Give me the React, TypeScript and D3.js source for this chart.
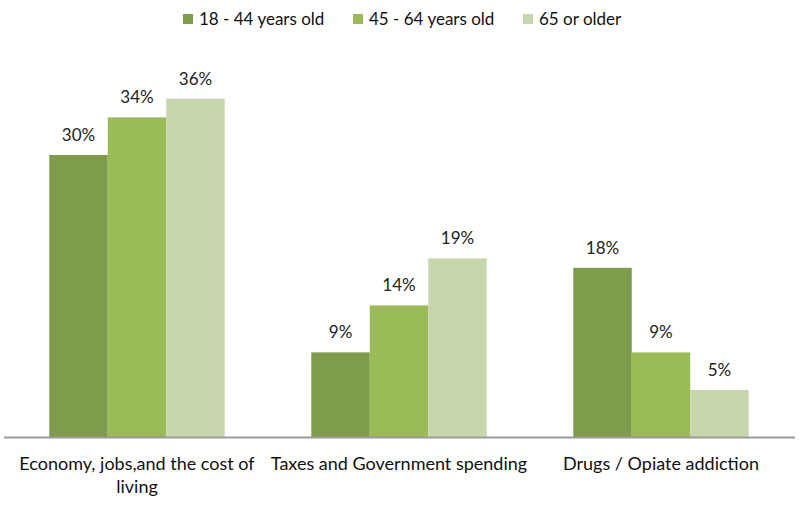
import React, { useRef, useEffect } from "react";
import { select, scaleBand, scaleLinear } from "d3";

const categories = ["Economy, jobs,and the cost of living", "Taxes and Government spending", "Drugs / Opiate addiction"];
const seriesNames = ["18 - 44 years old", "45 - 64 years old", "65 or older"];
const young = [30, 9, 18];
const middle = [34, 14, 9];
const older = [36, 19, 5];
const colors = ["#7e9c4b", "#9bbb59", "#c8d6ae"];

const W = 800;
const H = 508;
const FONT = "Lato, 'Open Sans', sans-serif";

function BarChart() {
  const svgRef = useRef<SVGSVGElement>(null);

  useEffect(() => {
    const svg = select(svgRef.current);
    svg.selectAll("*").remove();

    const series = [young, middle, older];
    const baseY = 437;

    const x = scaleBand().domain(categories).range([6, 792]).paddingInner(0).paddingOuter(0);
    const inner = scaleBand()
      .domain(seriesNames)
      .range([0, x.bandwidth()])
      .paddingInner(0)
      .paddingOuter(0.74);
    const y = scaleLinear().domain([0, 40]).range([baseY, baseY - 376]);

    // bars + value labels
    series.forEach((vals, si) => {
      const g = svg.append("g");
      g.selectAll("rect")
        .data(vals)
        .join("rect")
        .attr("x", (d, i) => x(categories[i])! + inner(seriesNames[si])!)
        .attr("y", d => y(d))
        .attr("width", inner.bandwidth())
        .attr("height", d => baseY - y(d))
        .attr("fill", colors[si]);
      g.selectAll("text")
        .data(vals)
        .join("text")
        .attr("x", (d, i) => x(categories[i])! + inner(seriesNames[si])! + inner.bandwidth() / 2)
        .attr("y", d => y(d) - 14)
        .attr("text-anchor", "middle")
        .attr("font-family", FONT)
        .attr("font-size", 17)
        .attr("fill", "#222")
        .text(d => d + "%");
    });

    // axis line
    svg.append("line")
      .attr("x1", 4).attr("x2", 795)
      .attr("y1", baseY + 0.5).attr("y2", baseY + 0.5)
      .attr("stroke", "#9a9a9a").attr("stroke-width", 2);

    // category labels, wrapped
    const labels = svg.append("g");
    categories.forEach(c => {
      const cx = x(c)! + x.bandwidth() / 2;
      const t = labels.append("text")
        .attr("x", cx)
        .attr("y", baseY + 33)
        .attr("text-anchor", "middle")
        .attr("font-family", FONT)
        .attr("font-size", 18)
        .attr("fill", "#111");
      const words = c.split(" ");
      let line: string[] = [];
      let tspan = t.append("tspan").attr("x", cx).attr("dy", 0);
      words.forEach(w => {
        line.push(w);
        tspan.text(line.join(" "));
        if ((tspan.node() as SVGTSpanElement).getComputedTextLength() > 275 && line.length > 1) {
          line.pop();
          tspan.text(line.join(" "));
          line = [w];
          tspan = t.append("tspan")
            .attr("x", cx)
            .attr("dy", 23)
            .text(w);
        }
      });
    });

    // legend
    const legendX = [183, 353, 523];
    const legend = svg.append("g");
    seriesNames.forEach((s, i) => {
      legend.append("rect")
        .attr("x", legendX[i]).attr("y", 14)
        .attr("width", 10).attr("height", 10)
        .attr("fill", colors[i]);
      legend.append("text")
        .attr("x", legendX[i] + 16).attr("y", 25)
        .attr("font-family", FONT)
        .attr("font-size", 17)
        .attr("fill", "#111")
        .text(s);
    });
  }, []);

  return <svg ref={svgRef} width={W} height={H} style={{ display: "block" }} />;
}

export default function App() {
  return (
    <div style={{ position: "absolute", left: 0, top: 0, background: "#fff" }}>
      <BarChart />
    </div>
  );
}
